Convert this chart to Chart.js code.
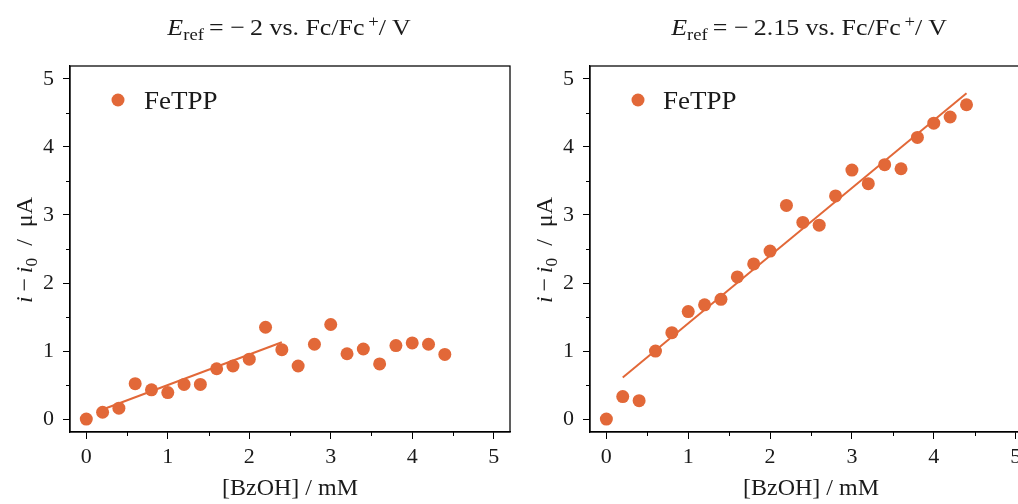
<!DOCTYPE html>
<html>
<head>
<meta charset="utf-8">
<script src="https://cdn.jsdelivr.net/npm/chart.js@4/dist/chart.umd.min.js"></script>
<style>
html, body { margin:0; padding:0; width:1018px; height:504px; overflow:hidden; background:#fff; }
.panel { position:absolute; top:0; width:520px; height:504px; }
.txt { position:absolute; font-family:"Liberation Serif", serif; color:#1a1a1a; white-space:nowrap; }
.title { font-size:24px; line-height:24px; top:15px; transform:translateX(-50%) scaleX(1.08); }
.ylab { font-size:24px; line-height:24px; transform:translate(-50%,-50%) rotate(-90deg); }
sub, sup { font-size:72%; line-height:0; }
sub { vertical-align:-0.3em; }
sup { vertical-align:0.45em; }
.leg { font-size:25px; line-height:25px; transform:translateY(-50%) scaleX(1.08); transform-origin:left center; }
.dot { position:absolute; width:13px; height:13px; border-radius:50%; background:#e26838; transform:translate(-50%,-50%); }
</style>
</head>
<body>
<div class="panel" style="left:0"><canvas id="c1" width="520" height="504"></canvas></div>
<div class="panel" style="left:520px"><canvas id="c2" width="520" height="504"></canvas></div>

<div class="txt title" style="left:289px"><i>E</i><sub>ref</sub>&thinsp;=&nbsp;−&thinsp;2 vs. Fc/Fc<sup>&thinsp;+</sup>/ V</div>
<div class="txt title" style="left:809px"><i>E</i><sub>ref</sub>&thinsp;=&nbsp;−&thinsp;2.15 vs. Fc/Fc<sup>&thinsp;+</sup>/ V</div>

<div class="txt ylab" style="left:24px;top:250px"><i>i</i>&thinsp;−&thinsp;<i>i</i><sub>0</sub>&nbsp; /&nbsp; μA</div>
<div class="txt ylab" style="left:544px;top:250px"><i>i</i>&thinsp;−&thinsp;<i>i</i><sub>0</sub>&nbsp; /&nbsp; μA</div>

<div class="dot" style="left:118px;top:100px"></div>
<div class="txt leg" style="left:144px;top:100px">FeTPP</div>
<div class="dot" style="left:638px;top:100px"></div>
<div class="txt leg" style="left:663px;top:100px">FeTPP</div>

<script>
// ---- data ----
const concentrations = [0, 0.2, 0.4, 0.6, 0.8, 1.0, 1.2, 1.4, 1.6, 1.8, 2.0, 2.2, 2.4, 2.6, 2.8, 3.0, 3.2, 3.4, 3.6, 3.8, 4.0, 4.2, 4.4];
const currentLeft  = [0.00, 0.10, 0.16, 0.52, 0.43, 0.39, 0.51, 0.51, 0.74, 0.78, 0.88, 1.35, 1.02, 0.78, 1.10, 1.39, 0.96, 1.03, 0.81, 1.08, 1.12, 1.10, 0.95];
const currentRight = [0.00, 0.33, 0.27, 1.00, 1.27, 1.58, 1.68, 1.76, 2.09, 2.28, 2.47, 3.14, 2.89, 2.85, 3.28, 3.66, 3.46, 3.74, 3.68, 4.14, 4.35, 4.44, 4.62];
const fitLeftX  = [0.2, 2.4];
const fitLeftY  = [0.14, 1.13];
const fitRightX = [0.2, 4.4];
const fitRightY = [0.61, 4.79];
const xMajorTicks = [0, 1, 2, 3, 4, 5];
const yMajorTicks = [0, 1, 2, 3, 4, 5];
const xMinorTicks = [0.5, 1.5, 2.5, 3.5, 4.5];
const yMinorTicks = [0.5, 1.5, 2.5, 3.5, 4.5];
const seriesName = 'FeTPP';
const xTitle = '[BzOH] / mM';

const COLOR = '#e26838';
const INK = '#1a1a1a';
const SERIF = '"Liberation Serif", "Times New Roman", serif';

const frame = {
  id: 'frame',
  afterDraw(chart) {
    const {ctx, chartArea: a, scales} = chart;
    ctx.save();
    ctx.strokeStyle = '#000';
    ctx.lineWidth = 1.25;
    ctx.strokeRect(a.left, a.top, a.right - a.left, a.bottom - a.top);
    ctx.lineWidth = 1;
    ctx.beginPath();
    xMinorTicks.forEach(v => {
      const px = Math.round(scales.x.getPixelForValue(v)) + 0.5;
      ctx.moveTo(px, a.bottom); ctx.lineTo(px, a.bottom + 4);
    });
    yMinorTicks.forEach(v => {
      const py = Math.round(scales.y.getPixelForValue(v)) + 0.5;
      ctx.moveTo(a.left, py); ctx.lineTo(a.left - 4, py);
    });
    ctx.stroke();
    ctx.restore();
  }
};

function makeChart(id, yVals, fx, fy, rightPad) {
  const pts = concentrations.map((x, i) => ({x, y: yVals[i]}));
  const fit = fx.map((x, i) => ({x, y: fy[i]}));
  return new Chart(document.getElementById(id), {
    type: 'scatter',
    data: {
      datasets: [
        { label: seriesName, data: pts, backgroundColor: COLOR, borderColor: COLOR, pointRadius: 6.5, pointBorderWidth: 0, pointHoverRadius: 6.5 },
        { label: 'fit', data: fit, showLine: true, borderColor: COLOR, borderWidth: 2, pointRadius: 0, fill: false }
      ]
    },
    options: {
      responsive: false,
      animation: false,
      devicePixelRatio: 1,
      layout: { padding: { left: 0, top: 66, right: rightPad, bottom: 0 } },
      plugins: { legend: { display: false }, tooltip: { enabled: false }, title: { display: false } },
      scales: {
        x: {
          type: 'linear', min: -0.2, max: 5.2,
          afterBuildTicks: s => { s.ticks = xMajorTicks.map(v => ({value: v})); },
          afterFit: s => { s.height = 72; },
          grid: { display: true, drawOnChartArea: false, drawTicks: true, tickLength: 7, tickWidth: 1, tickColor: '#000' },
          border: { display: true, color: '#000', width: 1.25 },
          ticks: { font: { family: SERIF, size: 22 }, color: INK, padding: 5, maxRotation: 0, autoSkip: false },
          title: { display: true, text: xTitle, font: { family: SERIF, size: 24 }, color: INK, padding: { top: 0, bottom: 1 } }
        },
        y: {
          type: 'linear', min: -0.19, max: 5.19,
          afterBuildTicks: s => { s.ticks = yMajorTicks.map(v => ({value: v})); },
          afterFit: s => { s.width = 70; },
          grid: { display: true, drawOnChartArea: false, drawTicks: true, tickLength: 7, tickWidth: 1, tickColor: '#000' },
          border: { display: true, color: '#000', width: 1.25 },
          ticks: { font: { family: SERIF, size: 22 }, color: INK, padding: 9, autoSkip: false }
        }
      }
    },
    plugins: [frame]
  });
}

makeChart('c1', currentLeft, fitLeftX, fitLeftY, 10);
makeChart('c2', currentRight, fitRightX, fitRightY, 8);
</script>
</body>
</html>
